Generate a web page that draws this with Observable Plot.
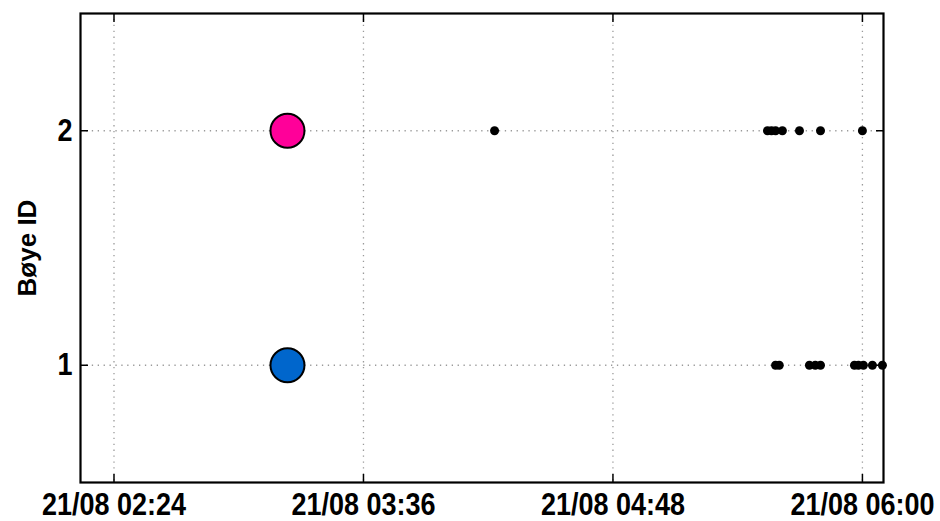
<!DOCTYPE html>
<html><head><meta charset="utf-8">
<script src="https://cdn.jsdelivr.net/npm/d3@7"></script>
<script src="https://cdn.jsdelivr.net/npm/@observablehq/plot@0.6"></script>
<style>body{margin:0;background:#fff} svg{display:block}</style>
</head><body><div id="chart"></div>
<script>
const day = "2023-08-21";
const xTickTimes = ["02:24:00", "03:36:00", "04:48:00", "06:00:00"];
const xDomainTimes = ["02:14:20", "06:06:05"];
const yTicks = [1, 2];
const yDomain = [0.5, 2.5];
const yTitle = "Bøye ID";
const startBuoy = [1, 2];
const startTimes = ["03:14:04", "03:14:04"];
const startColors = ["#0066cc", "#ff0099"];
const buoy1Times = ["05:34:56", "05:36:00", "05:44:42", "05:46:24", "05:47:54", "05:57:42", "05:58:51", "06:00:17", "06:02:53", "06:05:46"];
const buoy2Times = ["04:13:50", "05:32:36", "05:33:45", "05:34:56", "05:36:54", "05:41:50", "05:47:54", "06:00:00"];

const t = s => new Date(`${day}T${s}Z`);
const fmt = d3.utcFormat("%d/%m %H:%M");
const xTicks = xTickTimes.map(t);

const detections = [
  ...buoy1Times.map(s => ({time: t(s), buoy: 1})),
  ...buoy2Times.map(s => ({time: t(s), buoy: 2}))
];
const starts = startBuoy.map((b, i) => ({time: t(startTimes[i]), buoy: b, color: startColors[i]}));

const grid = {stroke: "#9a9a9a", strokeOpacity: 1, strokeWidth: 1.3, strokeDasharray: "1.3,4.6"};
const fs = 31;

const chart = Plot.plot({
  width: 940,
  height: 521,
  marginLeft: 80,
  marginRight: 57,
  marginTop: 13,
  marginBottom: 39,
  style: {fontFamily: "'Liberation Sans', Arial, sans-serif", fontWeight: "bold", background: "#fff", color: "#000", overflow: "visible"},
  x: {type: "utc", domain: xDomainTimes.map(t)},
  y: {domain: yDomain},
  marks: [
    Plot.gridX(xTicks, grid),
    Plot.gridY(yTicks, grid),
    Plot.axisX({anchor: "bottom", ticks: xTicks, tickSize: 0, tickPadding: 10, tickFormat: fmt, fontSize: fs, label: null}),
    Plot.axisX({anchor: "bottom", ticks: xTicks, tickSize: -8, tickFormat: () => "", strokeWidth: 1.5, label: null}),
    Plot.axisX({anchor: "top", ticks: xTicks, tickSize: -8, tickFormat: () => "", strokeWidth: 1.5, label: null}),
    Plot.axisY({anchor: "left", ticks: yTicks, tickSize: 0, tickPadding: 8, tickFormat: d3.format("d"), fontSize: fs,
      label: yTitle, labelAnchor: "center", labelArrow: "none", labelOffset: 63}),
    Plot.axisY({anchor: "left", ticks: yTicks, tickSize: -8, tickFormat: () => "", strokeWidth: 1.5, label: null}),
    Plot.axisY({anchor: "right", ticks: yTicks, tickSize: -8, tickFormat: () => "", strokeWidth: 1.5, label: null}),
    Plot.frame({stroke: "#000", strokeWidth: 2.2}),
    Plot.dot(detections, {x: "time", y: "buoy", r: 4.5, fill: "#000", stroke: "none"}),
    Plot.dot(starts, {x: "time", y: "buoy", r: 17, fill: d => d.color, stroke: "#000", strokeWidth: 2})
  ]
});
// narrow tick labels slightly, like the reference's condensed bold face
chart.querySelectorAll("[aria-label='x-axis tick label'] text, [aria-label='y-axis tick label'] text").forEach(el => {
  const tr = el.getAttribute("transform") || "";
  el.setAttribute("transform", tr + " scale(0.87,1)");
});
chart.querySelectorAll("[aria-label='y-axis label'] text").forEach(el => el.setAttribute("font-size", 26));
document.getElementById("chart").append(chart);
</script>
</body></html>
